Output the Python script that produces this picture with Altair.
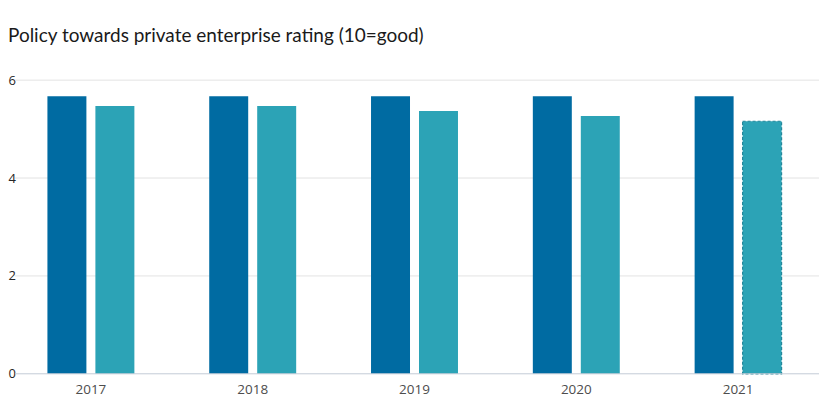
import altair as alt
import pandas as pd

years = ["2017", "2018", "2019", "2020", "2021"]
series_a = [5.67, 5.67, 5.67, 5.67, 5.67]
series_b = [5.47, 5.47, 5.37, 5.27, 5.16]
forecast_b = [False, False, False, False, True]
series_names = ["Series A", "Series B"]
y_ticks = [0, 2, 4, 6]

rows = []
for i, y in enumerate(years):
    rows.append({"year": y, "series": series_names[0], "value": series_a[i], "forecast": False})
    rows.append({"year": y, "series": series_names[1], "value": series_b[i], "forecast": forecast_b[i]})
df = pd.DataFrame(rows)
grid_df = pd.DataFrame({"v": y_ticks})

W, H = 810, 294

x_enc = alt.X("year:N", sort=years,
              scale=alt.Scale(paddingInner=0.407, paddingOuter=0.2035),
              axis=alt.Axis(title=None, domain=False, ticks=False, labelAngle=0,
                            labelPadding=9, labelFontSize=13.5, labelColor="#4d4d4d",
                            labelFont="Open Sans"))
y_scale = alt.Scale(domain=[0, 6], nice=False)

bars = alt.Chart(df).mark_bar(strokeWidth=1.2).encode(
    x=x_enc,
    xOffset=alt.XOffset("series:N", sort=series_names,
                        scale=alt.Scale(paddingInner=0.1875, paddingOuter=0.09375)),
    y=alt.Y("value:Q", scale=y_scale,
            axis=alt.Axis(title=None, domain=False, ticks=False, grid=False,
                          values=y_ticks, labelAlign="left", labelPadding=2,
                          labelFontSize=13, labelColor="#262626", labelFont="Open Sans")),
    color=alt.Color("series:N", sort=series_names,
                    scale=alt.Scale(domain=series_names, range=["#006ba2", "#2ca3b6"]),
                    legend=None),
    stroke=alt.condition("datum.forecast", alt.value("#23889b"), alt.value("transparent")),
    strokeDash=alt.condition("datum.forecast", alt.value([3, 2]), alt.value([1, 0])),
)

grid = alt.Chart(grid_df).transform_filter("datum.v > 0").mark_rule(
    color="#e3e3e3", strokeWidth=1
).encode(y=alt.Y("v:Q", scale=y_scale), x=alt.value(5), x2=alt.value(W))

base = alt.Chart(grid_df).transform_filter("datum.v == 0").mark_rule(
    color="#c3cbd6", strokeWidth=1
).encode(y=alt.Y("v:Q", scale=y_scale), x=alt.value(5), x2=alt.value(W))

chart = alt.layer(grid, bars, base).properties(
    width=W, height=H,
    background="white",
    title=alt.TitleParams("Policy towards private enterprise rating (10=good)",
                          anchor="start", fontSize=19, font="Lato", fontWeight="normal",
                          color="#1a1a1a", offset=28, baseline="top"),
    padding={"left": 0, "top": 19, "right": 5, "bottom": 5},
).configure_view(strokeWidth=0, stroke="transparent")

chart.save("out.html", embed_options={"renderer": "svg", "actions": False})
